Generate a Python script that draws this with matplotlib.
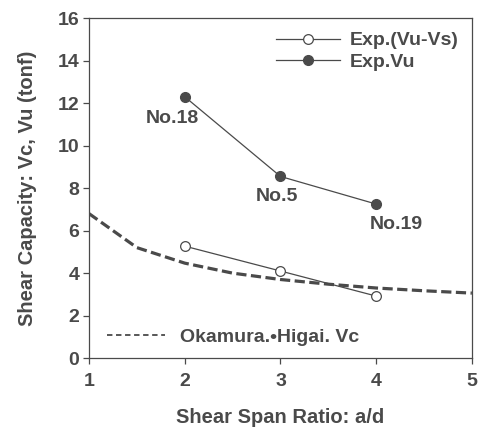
import numpy as np
import matplotlib.pyplot as plt
from matplotlib.lines import Line2D

plt.rcParams['font.family'] = ['Liberation Sans', 'DejaVu Sans']
plt.rcParams['font.weight'] = 'bold'
plt.rcParams['axes.labelweight'] = 'bold'

# experimental points
ad_exp = [2, 3, 4]
vu_vs = [5.27, 4.1, 2.92]      # Exp.(Vu-Vs)
vu = [12.3, 8.55, 7.25]        # Exp.Vu
specimens = ['No.18', 'No.5', 'No.19']

# Okamura-Higai Vc curve
ad_curve = [1.0, 1.25, 1.5, 2.0, 2.5, 3.0, 3.5, 4.0, 4.5, 5.0]
vc_curve = [6.8, 6.0, 5.2, 4.47, 4.0, 3.7, 3.48, 3.3, 3.17, 3.06]

ink = '#4a4a4a'

fig = plt.figure(figsize=(4.84, 4.32), dpi=100)
ax = fig.add_axes([0.184, 0.171, 0.791, 0.787])

ax.plot(ad_curve, vc_curve, '--', color=ink, lw=2.3, dashes=(3.2, 1.4))
l1, = ax.plot(ad_exp, vu_vs, '-o', color=ink, lw=0.9, ms=7, mfc='white', mec=ink, mew=0.9)
l2, = ax.plot(ad_exp, vu, '-o', color=ink, lw=0.9, ms=7, mfc=ink, mec=ink)

offsets = [(-0.13, -1.0), (-0.04, -0.95), (0.21, -0.98)]
for x, y, s, (dx, dy) in zip(ad_exp, vu, specimens, offsets):
    ax.text(x + dx, y + dy, s, ha='center', va='center', fontsize=14, color=ink)

leg = ax.legend([l1, l2], ['Exp.(Vu-Vs)', 'Exp.Vu'], loc='upper right',
                bbox_to_anchor=(1.0, 1.0), frameon=False, fontsize=14,
                handlelength=3.3, handletextpad=0.5, labelcolor=ink,
                borderaxespad=0.3, labelspacing=0.2)
ax.add_artist(leg)
dash_handle = Line2D([], [], ls='--', color=ink, lw=1.3, dashes=(3, 2))
ax.legend([dash_handle], ['Okamura.\u2022Higai. Vc'], loc='lower left',
          bbox_to_anchor=(0.0, -0.015), frameon=False, fontsize=14,
          handlelength=3.0, handletextpad=0.8, labelcolor=ink)

ax.set_xlim(1, 5)
ax.set_ylim(0, 16)
ax.set_xticks([1, 2, 3, 4, 5])
ax.set_yticks(np.arange(0, 17, 2))
ax.tick_params(direction='out', length=4, width=0.9, colors=ink, labelsize=14)
ax.tick_params(axis='x', pad=7)
ax.tick_params(axis='y', pad=3)
for lab in ax.get_xticklabels() + ax.get_yticklabels():
    lab.set_fontweight('bold')
for sp in ax.spines.values():
    sp.set_color(ink)
    sp.set_linewidth(0.9)

ax.set_xlabel('Shear Span Ratio: a/d', fontsize=14.5, color=ink, labelpad=13)
ax.set_ylabel('Shear Capacity: Vc, Vu (tonf)', fontsize=14.5, color=ink, labelpad=15)

fig.savefig('out.png', dpi=100)
